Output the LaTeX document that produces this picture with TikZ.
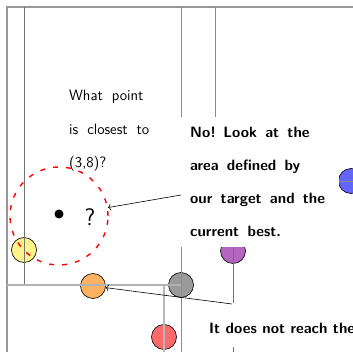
\documentclass[tikz,border=0pt]{standalone}
\usepackage{xcolor}
\usepackage{tikz}
\usetikzlibrary{arrows.meta,positioning}
\definecolor{ptyellow}{HTML}{FFF38A}
\definecolor{ptorange}{HTML}{FFB262}
\definecolor{ptgray}{HTML}{9A9A9A}
\definecolor{ptred}{HTML}{FF6B6B}
\definecolor{ptpurple}{HTML}{B466BE}
\definecolor{ptblue}{HTML}{6464FF}
\definecolor{splitink}{HTML}{8C8C8C}
\newcommand\widesp[1]{\spaceskip=#1em plus 0.2em\relax}

\begin{document}
\begin{tikzpicture}[x=1pt,y=-1pt,
  kdpt/.style={circle,draw=black,line width=0.6pt,minimum size=25pt,inner sep=0pt},
  split/.style={splitink,line width=0.8pt},
  say/.style={font=\sffamily\bfseries\fontsize{15}{33}\selectfont,
    align=left,fill=white},
  pointer/.style={-{To[length=3pt,width=7pt]},line width=0.6pt}]
  \useasboundingbox (0,0) rectangle (353,352);
  % points of the tree
  \node[kdpt,fill=ptyellow] (pyellow) at (24,250) {};
  \node[kdpt,fill=ptorange] (best) at (93,286) {};
  \node[kdpt,fill=ptgray] (pgray) at (181,285) {};
  \node[kdpt,fill=ptred] (pred) at (164,337) {};
  \node[kdpt,fill=ptpurple] (ppurple) at (233,251) {};
  \node[kdpt,fill=ptblue] (pblue) at (351,181) {};
  % splitting lines
  \draw[splitink!90,line width=1.8pt] (7,352) -- (7,7) -- (353,7);
  \draw[split,line width=0.7pt,black!55] (24,7) -- (24,285);
  \draw[split,line width=1.8pt,black!30] (7,285) -- (181,285);
  \draw[split] (181,7) -- (181,352);
  \draw[split,line width=1.4pt,black!28] (164,285) -- (164,352);
  \draw[split] (215,7) -- (215,181);
  \draw[split] (215,181) -- (353,181);
  \draw[split,black!55] (233,181) -- (233,352);
  % query
  \node[circle,draw=red,line width=1.4pt,dash pattern=on 5pt off 8pt,
    minimum size=98pt,inner sep=0pt] (range) at (59,216) {};
  \node[circle,fill=black,inner sep=0pt,minimum size=9pt] (target) at (59,214) {};
  \node[font=\sffamily\fontsize{24}{24}\selectfont] (qmark) at (90,217) {?};
  \node[font=\sffamily\fontsize{15}{33.5}\selectfont\widesp{0.6},
    align=left,inner sep=0pt,anchor=north west] (ask) at (69,90)
    {What point\\is closest to\\(3,8)?};
  \node[say,execute at begin node=\widesp{0.55},anchor=north west,
    text width=140pt,inner xsep=9pt,inner ysep=10pt] (nolook) at (181,117)
    {No! Look at the\\area defined by\\our target and the\\current best.};
  \node[say,anchor=base west,inner xsep=9pt,inner ysep=14pt,text height=16pt,
    text depth=0pt] (reach) at (200,333) {It does not reach the};
  \coordinate (nofrom) at (181,195);
  \coordinate (reachfrom) at (232,304);
  \draw[pointer] (nofrom) -- (range);
  \draw[pointer] (reachfrom) -- (best);
\end{tikzpicture}
\end{document}
